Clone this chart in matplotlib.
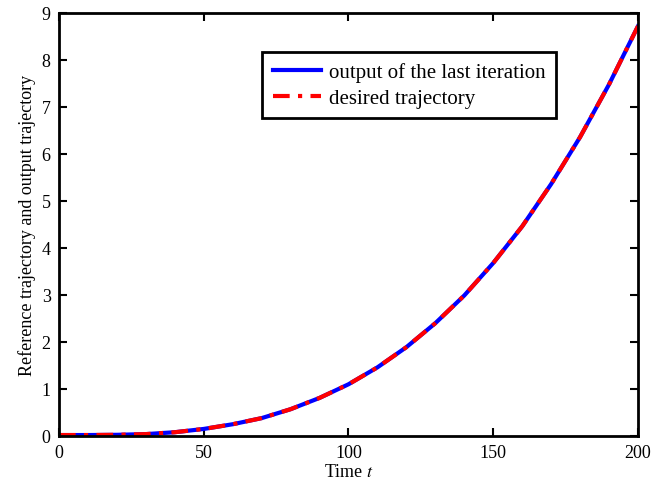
import matplotlib
matplotlib.use("Agg")
import matplotlib.pyplot as plt

# values
time_t = [0, 10, 20, 30, 40, 50, 60, 70, 80, 90, 100,
          110, 120, 130, 140, 150, 160, 170, 180, 190, 200]
desired = [0.02, 0.02, 0.025, 0.04, 0.08, 0.15, 0.25, 0.38, 0.57, 0.81, 1.10,
           1.46, 1.89, 2.40, 2.99, 3.68, 4.46, 5.36, 6.36, 7.48, 8.72]
output_last = [0.02, 0.02, 0.025, 0.04, 0.08, 0.15, 0.25, 0.38, 0.57, 0.81, 1.10,
               1.46, 1.89, 2.40, 2.99, 3.68, 4.46, 5.36, 6.36, 7.48, 8.72]

plt.rcParams["font.family"] = ["Liberation Serif", "DejaVu Serif"]
plt.rcParams["mathtext.fontset"] = "stix"

fig = plt.figure(figsize=(6.54, 4.81), dpi=100, facecolor="white")
ax = fig.add_axes([0.0902, 0.0915, 0.8853, 0.8794])

ax.plot(time_t, output_last, color="#0000FF", linewidth=3.0, label="output of the last iteration")
ax.plot(time_t, desired, color="#FF0000", linewidth=3.0, linestyle=(0, (4, 2, 1, 2)),
        label="desired trajectory")

ax.set_xlim(0, 200)
ax.set_ylim(0, 9)
ax.set_xticks([0, 50, 100, 150, 200])
ax.set_yticks(range(0, 10))
ax.tick_params(direction="in", top=True, right=True, length=6, width=1.5,
               labelsize=13, pad=6)
for sp in ax.spines.values():
    sp.set_linewidth(2.0)

ax.set_xlabel("Time $t$", fontsize=13, labelpad=1)
ax.set_ylabel("Reference trajectory and output trajectory", fontsize=13, labelpad=4)

leg = ax.legend(loc="upper left", bbox_to_anchor=(0.351, 0.908), fontsize=15,
                fancybox=False, framealpha=1, edgecolor="black",
                handlelength=2.3, borderaxespad=0, handletextpad=0.4,
                labelspacing=0.3, borderpad=0.5)
leg.get_frame().set_linewidth(2.0)

fig.savefig("out.png", dpi=100)
